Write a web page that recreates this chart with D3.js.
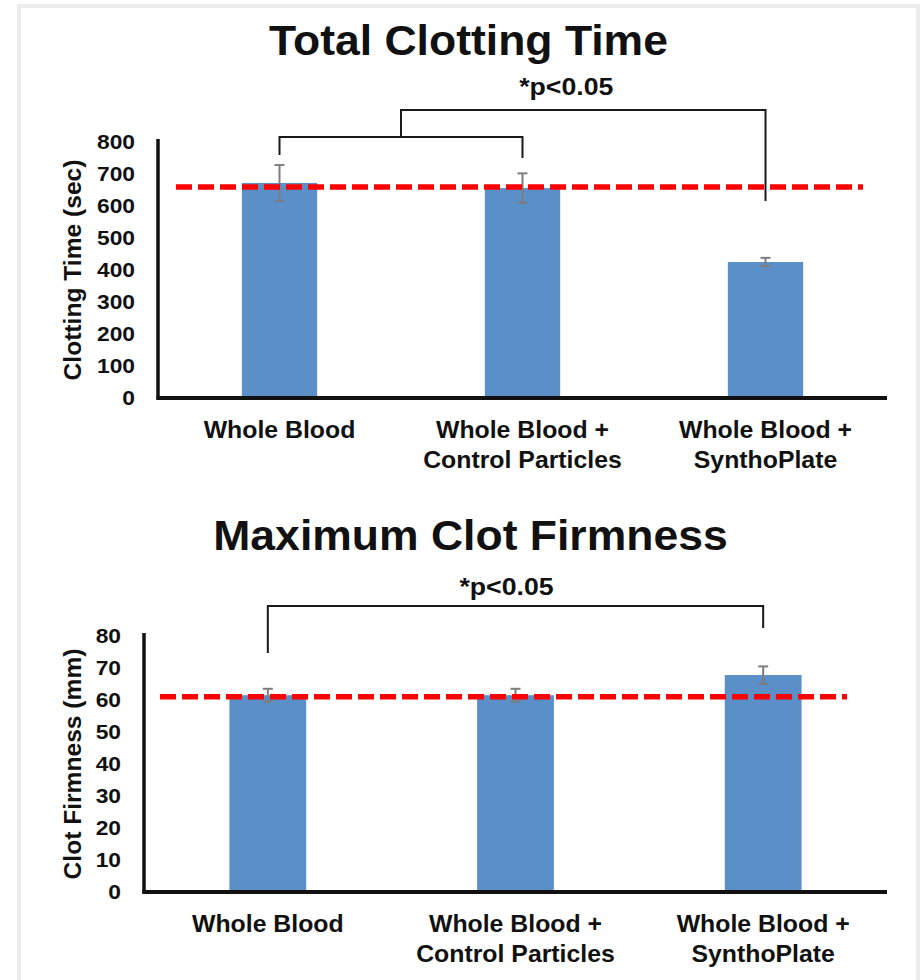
<!DOCTYPE html>
<html>
<head>
<meta charset="utf-8">
<script src="https://cdn.jsdelivr.net/npm/d3@7/dist/d3.min.js"></script>
<style>
  html, body { margin: 0; padding: 0; background: #ffffff; }
  svg { display: block; }
  text { font-family: "Liberation Sans", Arial, Helvetica, sans-serif; font-weight: bold; fill: #111; }
</style>
</head>
<body>
<svg id="chart" width="922" height="980"></svg>
<script>
// Group names, one entry per line of the axis label
const categoryLines = [
  ["Whole Blood"],
  ["Whole Blood +", "Control Particles"],
  ["Whole Blood +", "SynthoPlate"]
];

// Total clotting time (sec)
const timeMeans = [672, 656, 425];
const timeErrors = [56, 46, 13];
const timeReference = 659;
const timeTicks = [0, 100, 200, 300, 400, 500, 600, 700, 800];

// Maximum clot firmness (mm)
const firmnessMeans = [61.5, 61.5, 67.8];
const firmnessErrors = [2, 2, 2.7];
const firmnessReference = 61;
const firmnessTicks = [0, 10, 20, 30, 40, 50, 60, 70, 80];

// Significance brackets: category positions (fractional = between groups), bar height and leg ends in data units
const timeBrackets = [
  { from: 0, to: 1, top: 816, leftEnd: 759, rightEnd: 750 },
  { from: 0.5, to: 2, top: 900, leftEnd: 816, rightEnd: 616 }
];
const firmnessBrackets = [
  { from: 0, to: 2, top: 89.4, leftEnd: 74.7, rightEnd: 82.5 }
];
const significanceLabel = "*p<0.05";

const svg = d3.select("#chart");

// light frame around the figure
const frame = svg.append("g").attr("stroke", "#ececec").attr("stroke-width", 4).attr("fill", "none");
frame.append("path").attr("d", "M19,980 V6 H918 V980");

function stretchedText(parent, x, y, str, size, sx, anchor) {
  return parent.append("text")
    .attr("transform", `translate(${x},${y}) scale(${sx},1)`)
    .attr("text-anchor", anchor || "middle")
    .style("font-size", size + "px")
    .text(str);
}

function drawPanel(cfg) {
  const g = svg.append("g");
  const x = d3.scaleBand().domain(d3.range(cfg.means.length)).range([cfg.x0, cfg.x1]).padding(0);
  const y = d3.scaleLinear().domain([0, d3.max(cfg.ticks)]).range([cfg.yBottom, cfg.yTop]);
  const bw = x.bandwidth() * 0.31;
  const cx = i => {
    const lo = Math.floor(i), hi = Math.ceil(i);
    const a = x(lo) + x.bandwidth() / 2, b = x(hi) + x.bandwidth() / 2;
    return a + (b - a) * (i - lo);
  };

  // title
  stretchedText(g, (cfg.x0 + cfg.x1) / 2 + cfg.titleDx, cfg.titleY, cfg.title, 42, 1.06);

  // bars
  g.append("g").selectAll("rect").data(cfg.means).join("rect")
    .attr("x", (d, i) => cx(i) - bw / 2)
    .attr("width", bw)
    .attr("y", d => y(d))
    .attr("height", d => y(0) - y(d))
    .attr("fill", "#5b8fc8");

  // error bars
  const eb = g.append("g").attr("stroke", "#7d7d7d").attr("stroke-width", 2);
  cfg.means.forEach((m, i) => {
    const c = cx(i), e = cfg.errors[i];
    eb.append("line").attr("x1", c).attr("x2", c).attr("y1", y(m + e)).attr("y2", y(m - e));
    eb.append("line").attr("x1", c - 5).attr("x2", c + 5).attr("y1", y(m + e)).attr("y2", y(m + e));
    eb.append("line").attr("x1", c - 5).attr("x2", c + 5).attr("y1", y(m - e)).attr("y2", y(m - e));
  });

  // y axis ticks
  const yAxis = g.append("g").attr("transform", `translate(${cfg.x0},0)`)
    .call(d3.axisLeft(y).tickValues(cfg.ticks).tickSize(0).tickPadding(23));
  yAxis.select(".domain").remove();
  yAxis.selectAll("text")
    .style("font-size", "20px")
    .style("font-family", "'Liberation Sans', Arial, sans-serif")
    .style("font-weight", "bold")
    .attr("fill", "#111")
    .attr("x", -23 / 1.14)
    .attr("transform", "scale(1.14,1)");

  // x axis category labels
  const xAxis = g.append("g").attr("transform", `translate(0,${cfg.yBottom})`)
    .call(d3.axisBottom(x).tickSize(0).tickFormat(""));
  xAxis.select(".domain").remove();
  xAxis.selectAll(".tick").each(function (d) {
    const t = d3.select(this);
    t.select("text").remove();
    categoryLines[d].forEach((line, k) => {
      stretchedText(t, 0, 40 + k * 30, line, 23, 1.08);
    });
  });

  // axis lines
  g.append("line").attr("x1", cfg.x0).attr("x2", cfg.x0).attr("y1", cfg.yTop - 3).attr("y2", cfg.yBottom + 1.5)
    .attr("stroke", "#111").attr("stroke-width", 3.5);
  g.append("line").attr("x1", cfg.x0 - 1.5).attr("x2", cfg.x1).attr("y1", cfg.yBottom).attr("y2", cfg.yBottom)
    .attr("stroke", "#111").attr("stroke-width", 4);

  // reference (dashed red) line
  g.append("line")
    .attr("x1", cfg.x0 + cfg.refStart).attr("x2", cfg.x1 - cfg.refEnd)
    .attr("y1", y(cfg.reference)).attr("y2", y(cfg.reference))
    .attr("stroke", "#ff0000").attr("stroke-width", 5.5).attr("stroke-dasharray", "16 6");

  // significance brackets
  const br = g.append("g").attr("stroke", "#1a1a1a").attr("stroke-width", 2).attr("fill", "none");
  cfg.brackets.forEach(b => {
    const xa = cx(b.from), xb = cx(b.to);
    br.append("path").attr("d",
      `M${xa},${y(b.leftEnd)} V${y(b.top)} H${xb} V${y(b.rightEnd)}`);
  });
  const last = cfg.brackets[cfg.brackets.length - 1];
  stretchedText(g, (cx(last.from) + cx(last.to)) / 2 + cfg.pDx, cfg.pY, significanceLabel, 23, 1.16);

  // y axis title
  g.append("text")
    .attr("transform", `translate(${cfg.yLabelX},${(cfg.yTop + cfg.yBottom) / 2}) rotate(-90) scale(1.07,1)`)
    .attr("text-anchor", "middle")
    .attr("dy", "0.35em")
    .style("font-size", "23px")
    .text(cfg.yLabel);
}

drawPanel({
  title: "Total Clotting Time", titleY: 55, titleDx: -54,
  means: timeMeans, errors: timeErrors, reference: timeReference, ticks: timeTicks,
  brackets: timeBrackets, pY: 95, pDx: -17,
  yLabel: "Clotting Time (sec)", yLabelX: 73,
  x0: 158, x1: 887, yTop: 142, yBottom: 398, refStart: 18, refEnd: 24
});

drawPanel({
  title: "Maximum Clot Firmness", titleY: 550, titleDx: -45,
  means: firmnessMeans, errors: firmnessErrors, reference: firmnessReference, ticks: firmnessTicks,
  brackets: firmnessBrackets, pY: 595, pDx: -9,
  yLabel: "Clot Firmness (mm)", yLabelX: 73,
  x0: 144, x1: 887, yTop: 636, yBottom: 892, refStart: 16, refEnd: 40
});
</script>
</body>
</html>
